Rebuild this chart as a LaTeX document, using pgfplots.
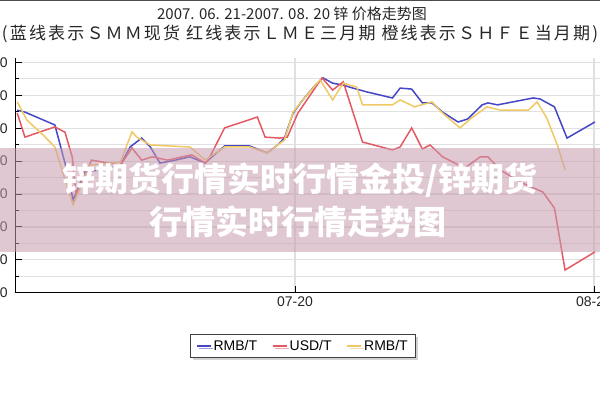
\documentclass[border=0pt]{standalone}
\usepackage{fontspec}
\setmainfont{Liberation Sans}
\newfontfamily\cjk{Noto Sans CJK SC}
\newfontfamily\cjkt{Noto Sans CJK SC}[LetterSpace=12.7]
\usepackage{pgfplots}
\pgfplotsset{compat=1.18}
\usetikzlibrary{shadows}

\definecolor{smm}{RGB}{70,70,200}
\definecolor{lme}{RGB}{228,90,100}
\definecolor{shfe}{RGB}{240,200,100}
\definecolor{band}{RGB}{200,155,175}

\begin{document}
\begin{tikzpicture}[x=1pt,y=1pt]
\useasboundingbox (0,0) rectangle (600,400);
\clip (0,0) rectangle (600,400);
\fill[white] (0,0) rectangle (600,400);
\draw[black!70, line width=1.5pt] (0,400) -- (600,400);

\begin{axis}[
    at={(15.3pt,107.3pt)}, anchor=south west,
    scale only axis, width=598pt, height=235.2pt,
    xmin=0, xmax=62, ymin=23000, ymax=30150,
    axis x line*=bottom, axis y line*=left,
    axis line style={-, black, line width=1.3pt},
    xtick={29,60}, xticklabels={07-20,08-20},
    ytick={23000,24000,...,30000}, minor y tick num=1,
    ymajorgrids, yminorgrids, xmajorgrids,
    major grid style={black!12, line width=1.2pt},
    minor grid style={black!12, line width=1.2pt},
    tick style={black, line width=1pt},
    major tick length=7pt, minor tick length=4pt,
    ticklabel style={font=\fontsize{14}{16}\selectfont, text=black!85},
    /pgf/number format/assume math mode=true,
    scaled y ticks=false,
    yticklabel style={/pgf/number format/1000 sep={}, xshift=-4pt},
    legend columns=3,
    legend image code/.code={\draw[#1] (0pt,0pt) -- (14pt,0pt);},
    legend style={at={(0.481,-0.2266)}, anchor=center,
        draw=black!75, line width=1pt, fill=white,
        font=\fontsize{14}{16}\selectfont,
        inner xsep=6pt, inner ysep=4pt,
        drop shadow={shadow xshift=2.5pt, shadow yshift=-2.5pt, fill=black!35},
        /tikz/every even column/.append style={column sep=13pt}},
]

% SMM spot
\addplot[smm, line width=1.5pt] coordinates {
 (0.2,28550) (1.0,28490) (4.1,28100) (4.6,27550) (5.15,26940) (6.0,25820)
 (7.2,26670) (8.8,26730) (10.9,26880) (11.9,27430) (13.1,27700) (14.0,27430)
 (15.0,26940) (16.6,27030) (18.1,27130) (19.7,26940) (20.0,27030) (21.7,27460)
 (24.3,27460) (26.1,27250) (27.2,27490) (27.9,27700) (28.8,28460) (29.8,28860)
 (31.1,29310) (31.9,29530) (32.9,29370) (34.0,29310) (35.0,29220) (36.5,29100)
 (39.1,28920) (39.9,29220) (41.1,29190) (42.2,28770) (43.2,28770) (44.3,28490)
 (45.9,28190) (46.9,28280) (48.4,28710) (49.0,28770) (50.0,28710) (53.7,28920)
 (54.4,28890) (55.9,28650) (57.2,27700) (60.1,28190)};

% LME 3 month
\addplot[lme, line width=1.5pt] coordinates {
 (0.2,28460) (1.0,27730) (4.1,28040) (5.15,27880) (5.9,27130) (6.3,25970)
 (7.9,27030) (10.9,26880) (12.1,27400) (13.1,27030) (14.2,27130) (15.8,27030)
 (17.3,27130) (18.3,27190) (19.7,26940) (20.0,27030) (21.7,28010) (25.1,28340)
 (25.9,27730) (27.4,27700) (28.2,27730) (29.3,28460) (31.8,29530) (32.9,29160)
 (34.0,29410) (36.0,27580) (39.1,27340) (39.9,27430) (41.1,28010) (42.2,27370)
 (43.0,27490) (44.3,27130) (46.6,26790) (48.2,27130) (49.0,27130) (50.3,26730)
 (52.3,26370) (54.7,26060) (55.9,25570) (57.0,23690) (60.1,24240)};

% SHFE current month
\addplot[shfe, line width=1.5pt] coordinates {
 (0.2,28800) (1.2,28250) (2.9,27790) (4.1,27430) (6.0,25670) (7.7,26880)
 (10.9,26970) (12.1,27890) (12.6,27730) (14.0,27490) (18.1,27430) (19.7,27030)
 (21.7,27430) (24.3,27430) (26.1,27250) (27.9,27640) (28.8,28490) (29.8,28860)
 (31.6,29470) (32.9,28860) (34.0,29370) (35.4,29250) (36.0,28710) (39.1,28710)
 (39.9,28860) (41.4,28650) (43.2,28800) (44.3,28460) (46.1,28010) (47.3,28310)
 (48.9,28650) (50.3,28550) (53.2,28550) (54.1,28800) (55.1,28310) (56.2,27490)
 (57.0,26730)};

\legend{RMB/T,USD/T,RMB/T}
\end{axis}

\node[text=black!85, font=\cjk\fontsize{15}{15}\selectfont] at (292,386)
  {2007. 06. 21-2007. 08. 20 锌 价格走势图};
\node[text=black!85, font=\cjkt\fontsize{17}{17}\selectfont] at (300,366)
  {(蓝线表示ＳＭＭ现货 红线表示ＬＭＥ三月期 橙线表示ＳＨＦＥ当月期)};

\fill[band, opacity=0.55] (0,148) rectangle (600,252);
\node[text=white, font=\cjk\bfseries\fontsize{33}{33}\selectfont] at (300,220)
  {锌期货行情实时行情金投/锌期货};
\node[text=white, font=\cjk\bfseries\fontsize{33}{33}\selectfont] at (298,178)
  {行情实时行情走势图};
\end{tikzpicture}
\end{document}
